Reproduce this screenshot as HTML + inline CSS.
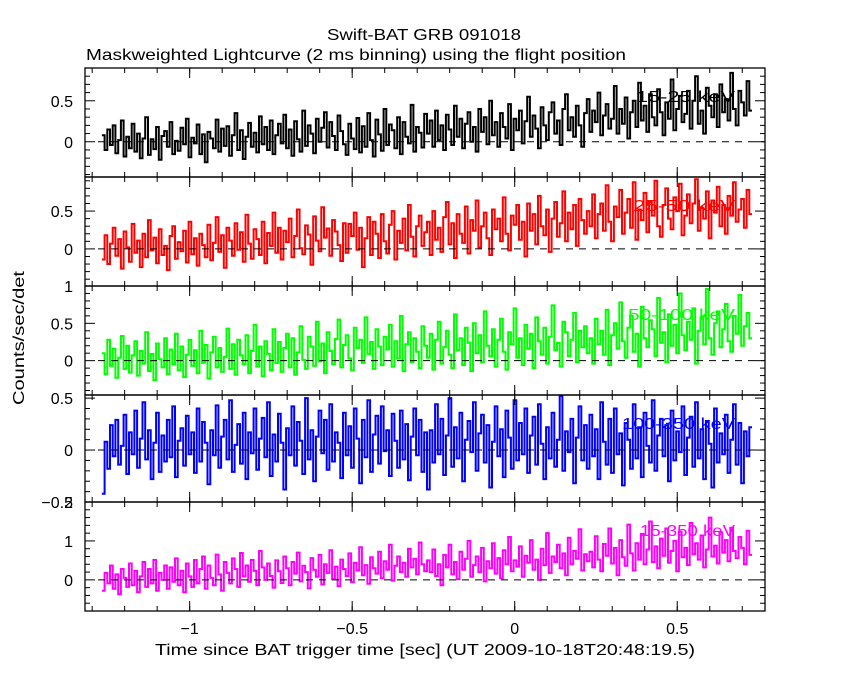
<!DOCTYPE html>
<html><head><meta charset="utf-8"><style>
html,body{margin:0;padding:0;background:#fff;}
svg{display:block;font-family:"Liberation Sans",sans-serif;}
</style></head><body>
<svg id="chart" width="850" height="680" viewBox="0 0 850 680" xmlns="http://www.w3.org/2000/svg">
<rect width="850" height="680" fill="#fff"/>
<text x="327" y="40" font-size="16" textLength="194" lengthAdjust="spacingAndGlyphs">Swift-BAT GRB 091018</text>
<text x="86" y="60" font-size="16" textLength="540" lengthAdjust="spacingAndGlyphs">Maskweighted Lightcurve (2 ms binning) using the flight position</text>
<text x="0" y="0" font-size="16" textLength="134" lengthAdjust="spacingAndGlyphs" transform="translate(24,405) rotate(-90)">Counts/sec/det</text>
<text x="155" y="655" font-size="16" textLength="540" lengthAdjust="spacingAndGlyphs">Time since BAT trigger time [sec] (UT 2009-10-18T20:48:19.5)</text>
<g id="plots"></g>
</svg>
<script>
const xTicks = [-1, -0.5, 0, 0.5];
const xTickLabels = ["\u22121", "\u22120.5", "0", "0.5"];
const tStart = -1.27, tEnd = 0.73;
const p1 = [8,-10,15,-4,20,-14,2,26,-18,6,-8,22,-12,10,-20,4,30,-16,3,-9,18,-22,7,13,-6,24,-15,1,-11,17,-3,28,-19,5,-2,21,-15,9,-25,12,4,-8,27,-12,16,-5,19,-17,8,35,-10,14,-21,6,23,-6,11,-13,31,-3,
18,-10,26,-15,8,22,-2,33,-8,15,-17,25,3,-12,38,-5,20,10,-14,28,0,17,36,-7,24,7,-10,32,13,-3,-16,22,4,-9,29,-13,19,-6,35,2,-18,27,9,-11,40,-4,21,14,-8,30,-15,24,6,-2,45,-12,18,11,-7,34,
10,26,-6,38,2,20,-10,33,15,-4,44,6,28,-8,22,36,0,18,-12,40,12,30,-3,50,8,24,-6,35,18,4,46,-10,28,14,38,-2,25,55,6,32,16,-8,42,20,2,36,48,10,26,-4,40,58,14,30,6,44,20,-6,35,52,
12,38,24,60,8,32,46,16,28,68,10,40,22,54,4,36,50,18,72,26,44,12,58,30,20,64,36,8,48,28,76,14,40,56,24,34,62,16,50,80,22,38,10,66,44,30,58,18,70,36,52,26,84,40,20,62,48,32,74,38];
const p2 = [-14,18,-20,7,28,-9,13,-26,23,2,-17,33,-5,11,-24,20,-11,38,-2,15,-19,26,-8,4,-28,17,30,-13,9,-3,24,-18,36,-7,14,-22,20,5,-11,32,-15,8,42,-4,18,-25,28,11,-9,34,-1,22,-17,45,7,-13,26,13,-8,36,
-19,21,4,48,-5,28,-14,24,9,40,-11,17,52,1,-7,31,19,-21,43,11,-3,55,15,27,-9,38,23,5,-16,34,-5,33,17,48,-1,28,-24,14,42,-8,36,20,-12,46,10,-6,32,50,-14,24,8,40,-2,58,16,-10,30,44,4,22,
36,-8,50,12,28,-4,42,62,6,34,-12,46,20,8,56,-6,38,24,64,2,30,48,14,-8,52,26,40,10,68,20,-2,44,32,58,12,36,-10,60,24,46,6,70,30,18,52,-4,40,62,16,34,76,10,48,26,58,4,66,38,20,50,
30,72,14,46,60,24,84,36,10,56,42,78,20,48,66,28,88,12,52,38,74,22,62,44,90,30,16,58,80,40,26,68,50,86,18,44,72,34,60,92,24,54,40,76,14,64,48,82,30,58,20,70,44,88,36,52,66,28,78,46];
const p3 = [10,-18,28,-7,16,-23,4,33,-11,20,-16,7,26,-20,13,-4,38,-14,9,-26,23,2,-9,30,-18,15,-5,36,-13,19,-22,8,28,-7,14,-17,40,-3,21,-24,11,32,-9,17,-15,5,43,-11,22,-19,28,7,-5,34,-17,13,48,-8,19,-21,
26,9,-13,42,-3,25,-15,17,36,-9,30,-19,11,46,1,-11,32,19,-7,52,-1,23,-17,38,13,-5,29,55,-9,21,34,3,-13,44,17,28,-3,58,9,25,-11,42,19,-6,32,15,48,-8,26,3,60,-14,22,38,-2,30,12,-10,46,20,
4,36,-12,28,52,-4,18,40,8,-10,62,14,30,-6,44,24,-14,50,10,34,-2,66,20,6,42,-8,28,56,12,-12,38,22,70,4,30,-6,48,16,36,-10,58,26,8,44,-4,32,74,14,24,-8,52,38,6,28,64,-2,40,18,46,10,
30,-4,56,22,40,8,68,-6,34,50,16,78,26,4,44,60,12,36,-8,72,30,18,54,42,6,84,24,38,-2,62,20,48,10,90,34,14,52,28,70,-4,40,58,22,96,30,8,50,66,18,42,76,26,12,60,36,88,20,46,64,30];
const p4 = [-42,8,-18,24,-6,29,-14,4,34,-23,17,-4,38,-17,11,46,-9,19,-28,7,36,-21,14,-11,29,-7,42,-26,9,21,-15,33,-4,17,-22,40,-11,27,7,-33,19,-5,43,-17,13,29,-9,48,-21,5,25,-13,36,-28,17,-3,40,-19,11,31,
-7,46,-25,15,-11,35,7,-38,21,-5,42,-15,27,9,-23,50,-9,19,-30,13,38,-3,29,-19,44,-11,17,7,-27,36,-5,23,-17,40,11,-32,29,-7,48,-21,15,33,-13,42,-1,19,-25,35,9,-17,38,-9,25,-29,13,40,-5,29,-21,17,
-38,19,-12,44,-4,30,-24,14,50,-16,22,-8,36,-30,10,28,-2,46,-20,16,34,-12,24,-36,8,42,-6,20,-26,38,12,-18,48,-10,26,-4,40,-22,14,32,-14,44,6,-28,22,-8,36,-16,10,52,-20,18,-2,30,-32,12,42,-10,24,-18,
34,-6,20,-28,46,8,-14,30,-22,40,-4,16,-34,26,10,-18,44,-8,22,-26,36,4,-12,48,-20,14,30,-6,24,-30,38,-10,18,-2,42,-24,12,32,-16,46,-8,20,-28,28,6,-36,40,-12,16,-4,34,-22,10,44,-14,26,-32,18,-6,22];
const p5 = [-28,18,-9,37,-23,14,-37,28,5,-18,42,-14,23,-32,9,46,-18,28,-9,51,-28,18,0,37,-23,32,-5,55,-14,23,-32,42,9,-18,51,-9,28,60,-23,37,5,-14,65,14,-28,46,18,-9,55,28,-18,69,9,37,-5,51,23,-14,74,32,
0,42,10,-20,50,22,-8,60,30,-14,46,16,70,-4,36,20,-22,56,26,8,64,-12,40,18,76,2,34,-16,52,28,10,68,-6,44,24,84,12,38,-10,58,30,16,72,4,48,26,90,-2,36,60,20,44,8,80,32,54,14,96,40,22,
50,20,78,10,40,-14,64,32,90,14,46,2,72,26,54,100,8,38,60,20,82,-4,48,30,94,16,56,4,76,40,110,22,50,34,86,8,62,44,102,26,52,0,80,38,120,18,60,46,90,30,68,12,108,40,74,54,130,24,66,48,
72,32,112,52,22,92,62,132,42,82,12,102,58,36,142,68,24,94,52,118,40,78,150,46,86,30,106,62,132,44,74,100,22,124,58,82,38,146,66,94,52,114,32,78,160,60,88,42,122,70,102,48,134,74,56,110,82,40,126,64];
const panels = [
 {data:p1, color:"#000", top:68, bottom:177, ymin:-0.43, ymax:0.9, ticks:[0,0.5], labels:["0","0.5"], minor:0.1, name:"15-25 keV", lx:636, lw:99},
 {data:p2, color:"#f00", top:177, bottom:286, ymin:-0.49, ymax:0.95, ticks:[0,0.5], labels:["0","0.5"], minor:0.1, name:"25-50 keV", lx:633, lw:102},
 {data:p3, color:"#0f0", top:286, bottom:395, ymin:-0.46, ymax:1.0, ticks:[0,0.5,1], labels:["0","0.5","1"], minor:0.1, name:"50-100 keV", lx:628, lw:107},
 {data:p4, color:"#00f", top:395, bottom:502, ymin:-0.5, ymax:0.53, ticks:[-0.5,0,0.5], labels:["\u22120.5","0","0.5"], minor:0.1, name:"100-350 keV", lx:622, lw:113},
 {data:p5, color:"#f0f", top:502, bottom:611, ymin:-0.8, ymax:2.0, ticks:[0,1,2], labels:["0","1","2"], minor:0.2, name:"15-350 keV", lx:640, lw:95}
];
const L = 85, R = 765;
const xMin = -1.322, xMax = 0.77;
function xs(t){ return L + (t - xMin) / (xMax - xMin) * (R - L); }
const NS = "http://www.w3.org/2000/svg";
const g = document.getElementById("plots");
function mk(tag, attrs){ const e = document.createElementNS(NS, tag); for (const k in attrs) e.setAttribute(k, attrs[k]); g.appendChild(e); return e; }
panels.forEach((p, i) => {
  const ys = v => p.bottom - (v - p.ymin) / (p.ymax - p.ymin) * (p.bottom - p.top);
  const lab = mk("text", {x:p.lx, y:p.top + 34, "font-size":16, fill:p.color, textLength:p.lw, lengthAdjust:"spacingAndGlyphs"});
  lab.textContent = p.name;
  
  
  const n = p.data.length, dt = (tEnd - tStart) / n;
  let d = "";
  p.data.forEach((v, j) => {
    const y = ys(v / 100).toFixed(1);
    const x0 = xs(tStart + j * dt).toFixed(1), x1 = xs(tStart + (j + 1) * dt).toFixed(1);
    d += (j === 0 ? "M" : "L") + x0 + " " + y + "L" + x1 + " " + y;
  });
  const line = mk("path", {d:d, fill:"none", stroke:p.color, "stroke-width":"2"});
  
  
  const z = mk("line", {x1:98, x2:R, y1:ys(0), y2:ys(0), stroke:"#000", "stroke-width":1, "stroke-dasharray":"7,6"});
  
  
  const box = mk("rect", {x:L, y:p.top, width:R - L, height:p.bottom - p.top, fill:"none", stroke:"#000", "stroke-width":1.3});
  
  
  for (let v = Math.ceil(p.ymin / p.minor) * p.minor; v <= p.ymax + 1e-9; v += p.minor) {
    const y = ys(v);
    const major = p.ticks.some(t => Math.abs(t - v) < 1e-6);
    const len = major ? 10 : 5;
    mk("line", {x1:L, x2:L + len, y1:y, y2:y, stroke:"#000", "stroke-width":1});
    mk("line", {x1:R, x2:R - len, y1:y, y2:y, stroke:"#000", "stroke-width":1});
  }
  p.ticks.forEach((t, k) => {
    const tx = mk("text", {x:L - 12, y:ys(t) + 6, "font-size":16, "text-anchor":"end"});
    tx.textContent = p.labels[k];
    
    
  });
  xTicks.forEach(t => {
    mk("line", {x1:xs(t), x2:xs(t), y1:p.top, y2:p.top + 10, stroke:"#000", "stroke-width":1});
    mk("line", {x1:xs(t), x2:xs(t), y1:p.bottom, y2:p.bottom - 10, stroke:"#000", "stroke-width":1});
  });
  for (let t = -1.3; t <= 0.75; t += 0.1) {
    mk("line", {x1:xs(t), x2:xs(t), y1:p.top, y2:p.top + 5, stroke:"#000", "stroke-width":1});
    mk("line", {x1:xs(t), x2:xs(t), y1:p.bottom, y2:p.bottom - 5, stroke:"#000", "stroke-width":1});
  }
});
xTicks.forEach((t, k) => {
  const tx = mk("text", {x:xs(t), y:634, "font-size":16, "text-anchor":"middle"});
  tx.textContent = xTickLabels[k];
  
  
});
</script>
</body></html>
